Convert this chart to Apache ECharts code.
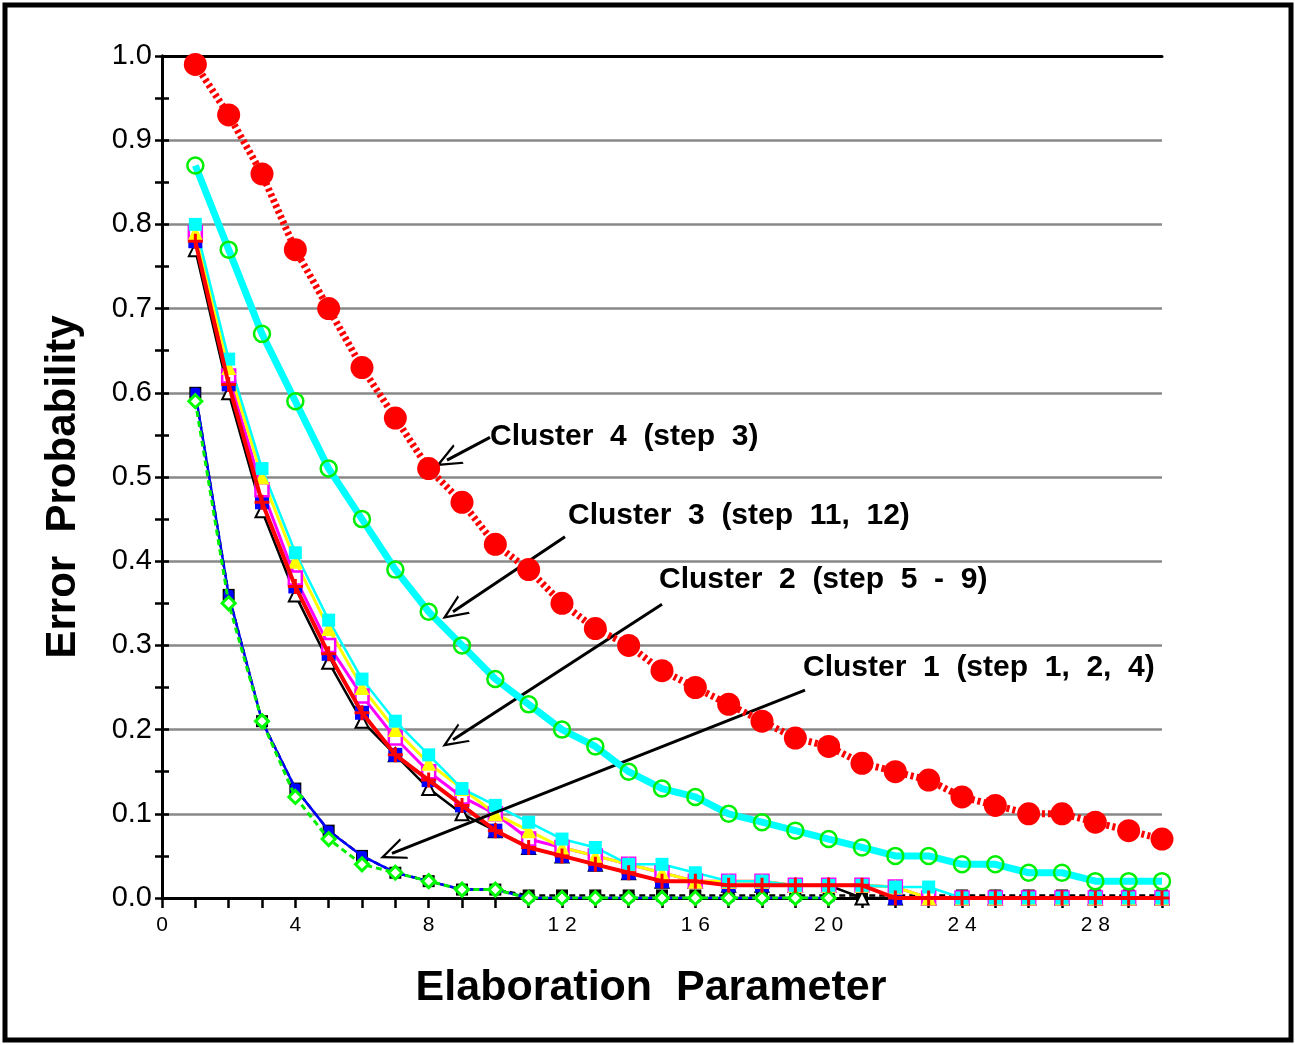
<!DOCTYPE html>
<html>
<head>
<meta charset="utf-8">
<script src="https://cdn.jsdelivr.net/npm/echarts@6/dist/echarts.min.js"></script>
<style>html,body{margin:0;padding:0;background:#fff;}#c{width:1295px;height:1045px;}</style>
</head>
<body>
<div id="c"></div>
<script>
const xs = [1,2,3,4,5,6,7,8,9,10,11,12,13,14,15,16,17,18,19,20,21,22,23,24,25,26,27,28,29,30];
const yTicks = ['0.0','0.1','0.2','0.3','0.4','0.5','0.6','0.7','0.8','0.9','1.0'];
const xTickLabels = [0,4,8,12,16,20,24,28];
const xTitle = 'Elaboration  Parameter';
const yTitle = 'Error  Probability';

// Cluster 4 (step 3)
const c4 = [0.99,0.93,0.86,0.77,0.70,0.63,0.57,0.51,0.47,0.42,0.39,0.35,0.32,0.30,0.27,0.25,0.23,0.21,0.19,0.18,0.16,0.15,0.14,0.12,0.11,0.10,0.10,0.09,0.08,0.07];
// Cluster 3 (step 11, 12)
const c3 = [0.87,0.77,0.67,0.59,0.51,0.45,0.39,0.34,0.30,0.26,0.23,0.20,0.18,0.15,0.13,0.12,0.10,0.09,0.08,0.07,0.06,0.05,0.05,0.04,0.04,0.03,0.03,0.02,0.02,0.02];
// Cluster 2 (step 5 - 9)
const c2cyan    = [0.80,0.64,0.51,0.41,0.33,0.26,0.21,0.17,0.13,0.11,0.09,0.07,0.06,0.04,0.04,0.03,0.02,0.02,0.015,0.015,0.015,0.013,0.013,0,0,0,0,0,0,0];
const c2yellow  = [0.79,0.63,0.50,0.40,0.32,0.25,0.20,0.16,0.13,0.10,0.08,0.06,0.05,0.04,0.03,0.02,0.02,0.02,0.015,0.015,0.015,0.013,0,0,0,0,0,0,0,0];
const c2magenta = [0.79,0.62,0.485,0.38,0.30,0.24,0.19,0.15,0.12,0.10,0.07,0.06,0.05,0.04,0.03,0.02,0.02,0.02,0.015,0.015,0.015,0.013,0,0,0,0,0,0,0,0];
const c2blue    = [0.78,0.61,0.47,0.37,0.29,0.22,0.17,0.14,0.11,0.08,0.06,0.05,0.04,0.03,0.02,0.02,0.015,0.015,0.015,0.015,0.015,0,0,0,0,0,0,0,0,0];
const c2red     = [0.78,0.61,0.47,0.37,0.29,0.22,0.17,0.14,0.11,0.08,0.06,0.05,0.04,0.03,0.02,0.02,0.015,0.015,0.015,0.015,0.015,0,0,0,0,0,0,0,0,0];
const c2black   = [0.77,0.60,0.46,0.36,0.28,0.21,0.17,0.13,0.10,0.08,0.06,0.05,0.04,0.03,0.02,0.02,0.015,0.015,0.015,0.015,0,0,0,0,0,0,0,0,0,0];
// Cluster 1 (step 1, 2, 4)
const c1blue  = [0.60,0.36,0.21,0.13,0.08,0.05,0.03,0.02,0.01,0.01,0,0,0,0,0,0,0,0,0,0];
const c1black = [0.60,0.36,0.21,0.13,0.08,0.05,0.03,0.02,0.01,0.01,0.003,0.003,0.003,0.003,0.003,0.003,0.003,0.003,0.003,0.003,0.003,0.003,0.003,0.003,0.003,0.003,0.003,0.003,0.003,0.003];
const c1green = [0.59,0.35,0.21,0.12,0.07,0.04,0.03,0.02,0.01,0.01,0,0,0,0,0,0,0,0,0,0];

// annotation arrows in data coordinates [from, to]
const arrows = [
  [[9.84,0.547],[8.55,0.520]],
  [[12.09,0.429],[8.73,0.340]],
  [[15.0,0.349],[8.73,0.188]],
  [[19.29,0.247],[6.9,0.053]]
];
const annLabels = [
  {text:'Cluster  4  (step  3)', x:490, y:437},
  {text:'Cluster  3  (step  11,  12)', x:568, y:516},
  {text:'Cluster  2  (step  5  -  9)', x:659, y:580},
  {text:'Cluster  1  (step  1,  2,  4)', x:803, y:668}
];

function pairs(arr){ return arr.map((v,i)=>[xs[i],v]); }

const plusPath = 'path://M-1.2,-6 L1.2,-6 L1.2,-1.2 L6,-1.2 L6,1.2 L1.2,1.2 L1.2,6 L-1.2,6 L-1.2,1.2 L-6,1.2 L-6,-1.2 L-1.2,-1.2 Z';
const chevron = 'path://M0,0 L12,22 L9.5,22 L0,5 L-9.5,22 L-12,22 Z';

const chart = echarts.init(document.getElementById('c'), null, {renderer:'canvas'});

function lineSeries(name, data, color, width, type, symbol, size, itemStyle, z){
  return {
    name, type:'line', data:pairs(data), symbol, symbolSize:size,
    lineStyle:{color, width, type}, itemStyle, z: z||2, animation:false,
    emphasis:{disabled:true}
  };
}

const series = [
  // Cluster 1
  lineSeries('c1black', c1black, '#000', 2.5, [6,4], 'rect', 12, {color:'#000'}, 2),
  lineSeries('c1blue', c1blue, '#0000ff', 2.5, 'solid', 'roundRect', 10, {color:'#0000ff'}, 3),
  lineSeries('c1green', c1green, '#00ee00', 3, [6,4], 'diamond', 13, {color:'#fff', borderColor:'#00ff00', borderWidth:3}, 4),
  // Cluster 2
  lineSeries('c2black', c2black, '#000', 2.5, 'solid', 'triangle', 13, {color:'#fff', borderColor:'#000', borderWidth:2}, 2),
  lineSeries('c2blue', c2blue, '#0000ff', 2, 'solid', 'rect', 14, {color:'#0000ff'}, 3),
  lineSeries('c2magenta', c2magenta, '#ff00ff', 3, 'solid', 'rect', 13, {color:'#fff', borderColor:'#ff00ff', borderWidth:2.5}, 3),
  lineSeries('c2yellow', c2yellow, '#ffff00', 3, 'solid', 'triangle', 15, {color:'#ffff00'}, 3),
  lineSeries('c2cyan', c2cyan, '#00ffff', 2.5, 'solid', 'rect', 13, {color:'#00ffff'}, 3),
  lineSeries('c2red', c2red, '#ff0000', 4, 'solid', plusPath, 15, {color:'#ff0000'}, 4),
  // Cluster 3
  lineSeries('c3', c3, '#00ffff', 7, 'solid', 'circle', 16, {color:'rgba(0,0,0,0)', borderColor:'#00ee00', borderWidth:2.5}, 5),
  // Cluster 4
  lineSeries('c4', c4, '#ff0000', 7, [3,3], 'circle', 23, {color:'#ff0000'}, 6),
  // annotation arrows
  {
    type:'line', data:[], z:10, animation:false,
    markLine:{
      silent:true, animation:false,
      symbol:['none', chevron], symbolSize:[22,26], symbolOffset:[0,0],
      label:{show:false},
      lineStyle:{color:'#000', width:3, type:'solid'},
      emphasis:{disabled:true},
      data: arrows.map(a=>[{coord:a[0]},{coord:a[1]}])
    }
  }
];

const option = {
  backgroundColor:'#fff',
  animation:false,
  textStyle:{fontFamily:'Liberation Sans, Arial, sans-serif'},
  grid:{left:162, right:133, top:56, bottom:147, containLabel:false},
  xAxis:[{
    type:'value', min:0, max:30, interval:1,
    axisLine:{lineStyle:{color:'#000', width:3}},
    axisTick:{show:true, inside:false, length:10, lineStyle:{color:'#000', width:2.5}},
    axisLabel:{margin:17, fontSize:21, color:'#000', fontFamily:'Liberation Sans',
      formatter:(v)=> xTickLabels.indexOf(v)>=0 ? String(v).split('').join(' ') : ''},
    splitLine:{show:false}
  },{
    type:'value', min:0, max:30, position:'top',
    axisLine:{show:true, onZero:false, lineStyle:{color:'#000', width:3}},
    axisTick:{show:false}, axisLabel:{show:false}, splitLine:{show:false}
  }],
  yAxis:[{
    type:'value', min:0, max:1, interval:0.1,
    axisLine:{show:true, lineStyle:{color:'#000', width:3}},
    axisTick:{show:true, inside:true, length:7, lineStyle:{color:'#000', width:2.5}},
    minorTick:{show:true, splitNumber:2, length:7, lineStyle:{color:'#000', width:2.5}},
    axisLabel:{margin:10, fontSize:29, color:'#000', fontFamily:'Liberation Sans',
      formatter:(v)=> yTicks[Math.round(v*10)]},
    splitLine:{show:true, lineStyle:{color:'#888', width:2.5}}
  },{
    type:'value', min:0, max:1, interval:0.1, position:'right',
    axisLine:{show:true, lineStyle:{color:'#000', width:3}},
    axisTick:{show:true, inside:true, length:7, lineStyle:{color:'#000', width:2.5}},
    minorTick:{show:true, splitNumber:2, length:7, lineStyle:{color:'#000', width:2.5}},
    axisLabel:{show:false}, splitLine:{show:false}
  }],
  graphic:[
    {type:'rect', shape:{x:5, y:5, width:1286, height:1035}, style:{fill:'none', stroke:'#000', lineWidth:5}, z:100, silent:true},
    {type:'text', x:651, y:988, z:100, silent:true,
      style:{text:xTitle, fontSize:43, fontWeight:'bold', fill:'#000', fontFamily:'Liberation Sans', textAlign:'center', textVerticalAlign:'middle'}},
    {type:'text', x:63, y:487, rotation:Math.PI/2, z:100, silent:true,
      style:{text:yTitle, fontSize:42, fontWeight:'bold', fill:'#000', fontFamily:'Liberation Sans', textAlign:'center', textVerticalAlign:'middle'}}
  ].concat(annLabels.map(a=>({
    type:'text', x:a.x, y:a.y, z:100, silent:true,
    style:{text:a.text, fontSize:30, fontWeight:'bold', fill:'#000', fontFamily:'Liberation Sans', textVerticalAlign:'middle'}
  }))),
  series
};
chart.setOption(option);
</script>
</body>
</html>
